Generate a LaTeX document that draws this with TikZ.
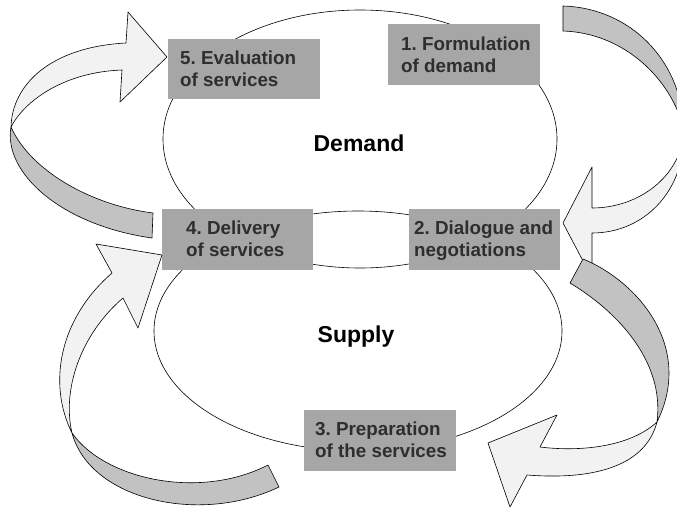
\documentclass[tikz,border=0pt]{standalone}
\usepackage{fontspec}
\setmainfont{Liberation Sans}
\usetikzlibrary{shapes.geometric}
\definecolor{boxgray}{HTML}{A6A6A6}
\definecolor{txtgray}{HTML}{2E2E2E}
\definecolor{ribbonlight}{HTML}{F2F2F2}
\definecolor{ribbondark}{HTML}{C2C2C2}
\frenchspacing
\begin{document}
\begin{tikzpicture}[x=1pt,y=-1pt,
  ell/.style={draw, ellipse, inner sep=0pt, line width=0.6pt},
  box/.style={fill=boxgray, inner sep=0pt},
  lbl/.style={font=\fontsize{18.8}{22}\selectfont\bfseries, text=txtgray, inner sep=0pt, anchor=base west},
  big/.style={font=\fontsize{23}{27}\selectfont\bfseries, inner sep=0pt, anchor=base},
  lightpart/.style={fill=ribbonlight, draw=black, line width=0.6pt, line join=round},
  darkpart/.style={fill=ribbondark, draw=black, line width=0.6pt, line join=round}]
\useasboundingbox (0,0) rectangle (677,508);
\clip (0,0) rectangle (677,508);
\fill[white] (0,0) rectangle (677,508);

% ellipses
\node[ell, minimum width=394pt, minimum height=258pt] (demand) at (360,139) {};
\node[ell, minimum width=408pt, minimum height=240pt] (supply) at (358,331) {};
\node[big] (demandtxt) at (359,151) {Demand};
\node[big] (supplytxt) at (356,342) {Supply};

% boxes
\node[box, minimum width=152pt, minimum height=60pt] (b5) at (244,69) {};
\node[box, minimum width=152pt, minimum height=61pt] (b1) at (464,54.5) {};
\node[box, minimum width=151pt, minimum height=61pt] (b4) at (237.5,239.5) {};
\node[box, minimum width=151pt, minimum height=61pt] (b2) at (484.5,239.5) {};
\node[box, minimum width=152pt, minimum height=61pt] (b3) at (380,440.5) {};

\node[lbl] (b5a) at (180,65) {5. Evaluation};
\node[lbl] (b5b) at (180,87) {of services};
\node[lbl] (b1a) at (401,51) {1. Formulation};
\node[lbl] (b1b) at (401,73) {of demand};
\node[lbl] (b4a) at (186,234) {4. Delivery};
\node[lbl] (b4b) at (186,256) {of services};
\node[lbl] (b2a) at (414,234) {2. Dialogue and};
\node[lbl] (b2b) at (414,256) {negotiations};
\node[lbl] (b3a) at (315,435) {3. Preparation};
\node[lbl] (b3b) at (315,457) {of the services};

% arrow B (1 -> 2)
\draw[darkpart] (563,6) .. controls (630,8) and (682,60) .. (684,130)
  .. controls (672,80) and (625,33) .. (563,31) -- cycle;
\draw[lightpart] (684,130) .. controls (682,175) and (640,208) .. (592,208)
  -- (592,167) -- (563,223) -- (592,278) -- (592,233)
  .. controls (645,233) and (686,190) .. (684,130) -- cycle;

% arrow C (2 -> 3)
\draw[darkpart] (583,259) .. controls (635,280) and (695,345) .. (657,422)
  .. controls (665,360) and (615,310) .. (570,283) -- cycle;
\draw[lightpart] (657,422) .. controls (630,447) and (580,452) .. (540,447)
  -- (557,415) -- (488,443) -- (510,507) -- (527,475)
  .. controls (590,480) and (645,468) .. (657,422) -- cycle;

% arrow D (3 -> 4)
\draw[darkpart] (72,433) .. controls (90,500) and (200,525) .. (279,487)
  -- (268,465) .. controls (200,500) and (105,480) .. (72,433) -- cycle;
\draw[lightpart] (72,433) .. controls (48,385) and (58,320) .. (112,273)
  -- (96,244) -- (162,255) -- (138,328) -- (123,298)
  .. controls (80,335) and (62,390) .. (72,433) -- cycle;

% arrow A (4 -> 5)
\draw[darkpart] (11,127) .. controls (30,170) and (90,205) .. (153,213)
  -- (152,238) .. controls (60,225) and (3,172) .. (11,127) -- cycle;
\draw[lightpart] (126,43) -- (128,12) -- (167,57) -- (120,102) -- (122,70)
  .. controls (65,72) and (25,100) .. (11,127)
  .. controls (12,85) and (50,47) .. (126,43) -- cycle;
\end{tikzpicture}
\end{document}
